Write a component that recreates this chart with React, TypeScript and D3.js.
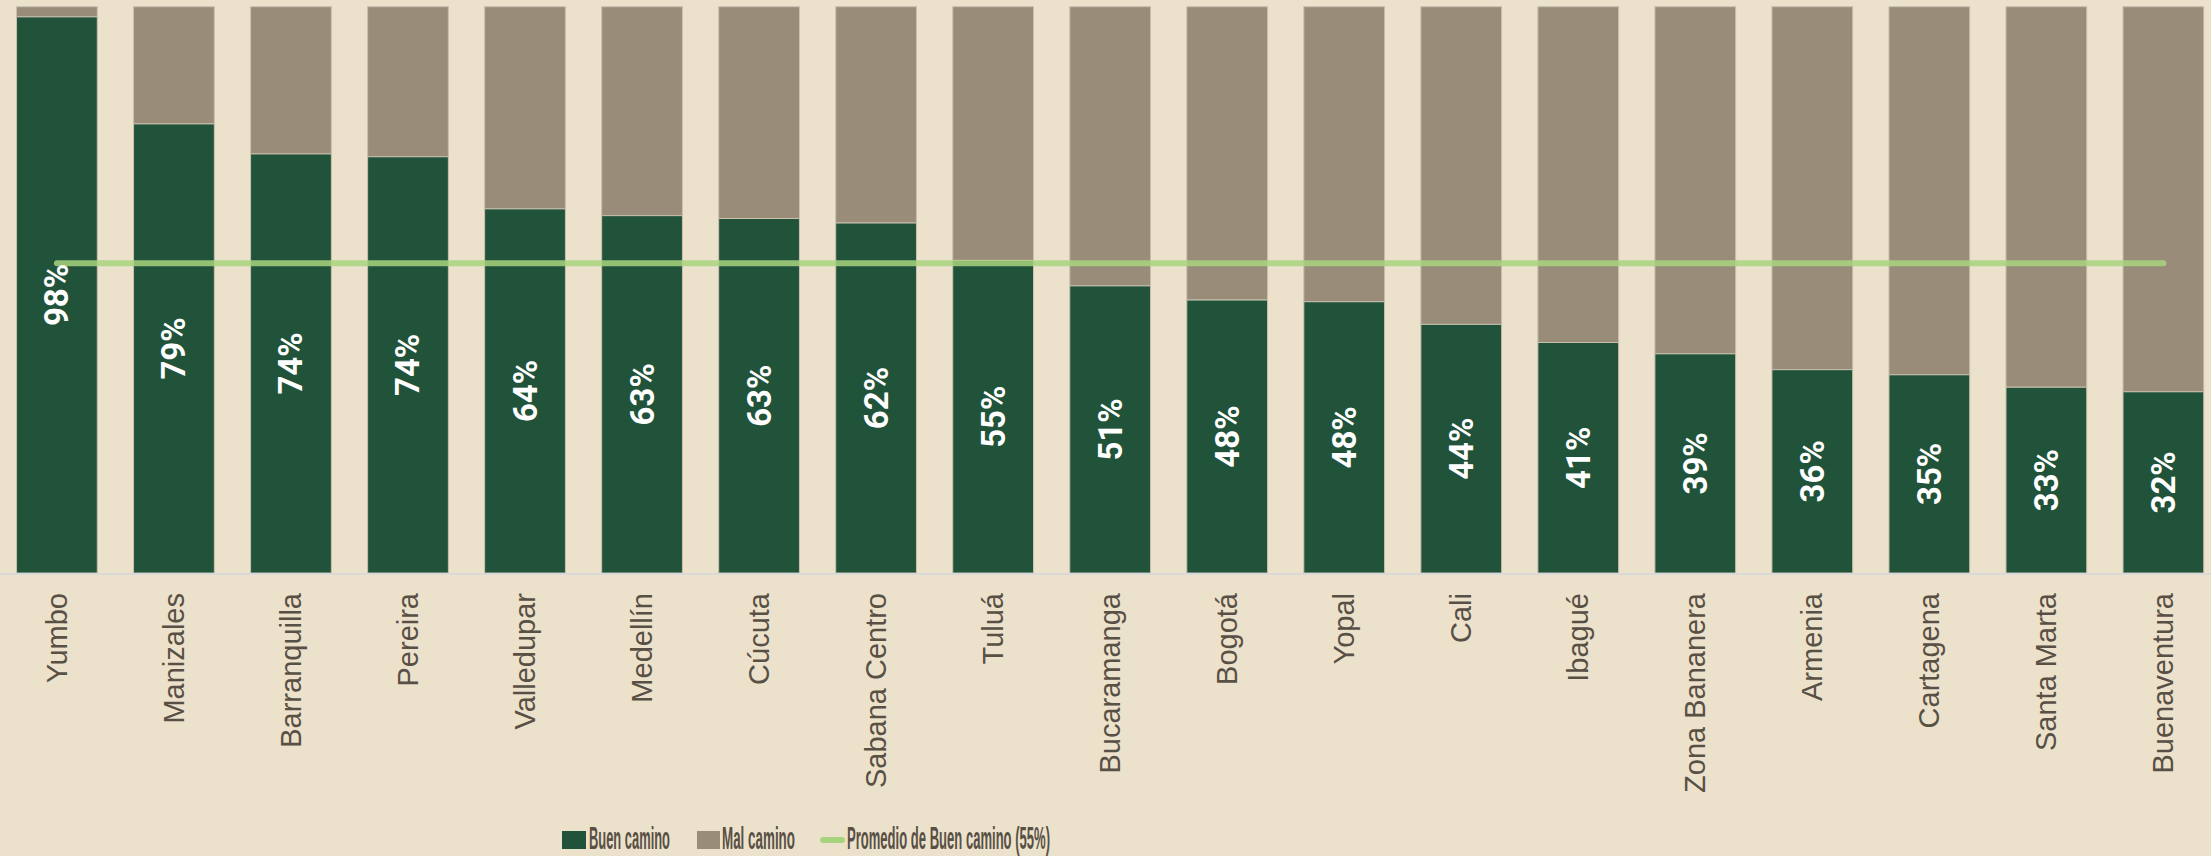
import React from "react";
import * as d3 from "d3";

const categories = [
  "Yumbo", "Manizales", "Barranquilla", "Pereira", "Valledupar", "Medellín", "Cúcuta",
  "Sabana Centro", "Tuluá", "Bucaramanga", "Bogotá", "Yopal", "Cali", "Ibagué",
  "Zona Bananera", "Armenia", "Cartagena", "Santa Marta", "Buenaventura",
];
const buenCamino = [98.2, 79.3, 74.0, 73.5, 64.3, 63.1, 62.6, 61.8, 55.2, 50.7, 48.2, 47.9, 43.9, 40.7, 38.7, 35.9, 35.0, 32.8, 32.0];
const labels = ["98%", "79%", "74%", "74%", "64%", "63%", "63%", "62%", "55%", "51%", "48%", "48%", "44%", "41%", "39%", "36%", "35%", "33%", "32%"];
const promedio = 54.7;
const legendLabels = ["Buen camino", "Mal camino", "Promedio de Buen camino (55%)"];

const W = 2211;
const H = 856;
const BG = "#ECE2CC";
const GREEN = "#21523A";
const GRAY = "#998D7A";
const LINE = "#A8D37E";
const TXT = "#595045";

function LegendText({ x, y, width, text }: { x: number; y: number; width: number; text: string }) {
  const sx = 0.55;
  return (
    <g transform={`translate(${x},${y}) scale(${sx},1)`}>
      <text x={0} y={0} textLength={width / sx} lengthAdjust="spacingAndGlyphs">{text}</text>
    </g>
  );
}

export default function App() {
  const x = d3.scaleBand<string>().domain(categories).range([-1.6, 2221.9]).paddingInner(0.31).paddingOuter(0.155);
  const y = d3.scaleLinear().domain([0, 100]).range([573, 6.7]);
  const bw = x.bandwidth();
  const first = categories[0];
  const last = categories[categories.length - 1];
  const avgY = y(promedio);

  return (
    <svg width={W} height={H} style={{ position: "absolute", left: 0, top: 0, display: "block" }}>
      <rect x={0} y={0} width={W} height={H} fill={BG} />
      {categories.map((c, i) => {
        const x0 = x(c)!;
        const v = buenCamino[i];
        return (
          <g key={c}>
            <rect x={x0} y={y(100)} width={bw} height={y(v) - y(100)} fill={GRAY} stroke="#C9C0AE" strokeWidth={1} />
            <rect x={x0} y={y(v)} width={bw} height={y(0) - y(v)} fill={GREEN} stroke="#C9C0AE" strokeWidth={1} />
          </g>
        );
      })}
      <line x1={0} x2={W} y1={y(0) + 1} y2={y(0) + 1} stroke="#D9D9D9" strokeWidth={2} />
      <line
        x1={x(first)! + bw / 2}
        x2={x(last)! + bw / 2}
        y1={avgY}
        y2={avgY}
        stroke={LINE}
        strokeOpacity={0.85}
        strokeWidth={6}
        strokeLinecap="round"
      />
      {categories.map((c, i) => {
        const cx = x(c)! + bw / 2;
        const cy = (y(buenCamino[i]) + y(0)) / 2;
        return (
          <text
            key={"v" + c}
            transform={`translate(${cx},${cy}) rotate(-90)`}
            textAnchor="middle"
            dominantBaseline="central"
            fill="#FFFFFF"
            fontFamily="Roboto, 'Open Sans', sans-serif"
            fontWeight="bold"
            fontSize={33}
          >
            {labels[i]}
          </text>
        );
      })}
      {categories.map((c) => {
        const cx = x(c)! + bw / 2;
        return (
          <text
            key={"c" + c}
            transform={`translate(${cx},593) rotate(-90)`}
            textAnchor="end"
            dominantBaseline="central"
            fill={TXT}
            fontFamily="'Liberation Sans', Arial, sans-serif"
            fontSize={29}
          >
            {c}
          </text>
        );
      })}
      <g fontFamily="'Liberation Sans', Arial, sans-serif" fontSize={31} fontWeight="bold" fill={TXT}>
        <rect x={562} y={831} width={24} height={18} fill={GREEN} />
        <LegendText x={589} y={849} width={81} text={legendLabels[0]} />
        <rect x={697} y={831} width={23} height={18} fill={GRAY} />
        <LegendText x={722} y={849} width={73} text={legendLabels[1]} />
        <line x1={823} x2={842} y1={840} y2={840} stroke={LINE} strokeWidth={6} strokeLinecap="round" />
        <LegendText x={847} y={849} width={203} text={legendLabels[2]} />
      </g>
    </svg>
  );
}
